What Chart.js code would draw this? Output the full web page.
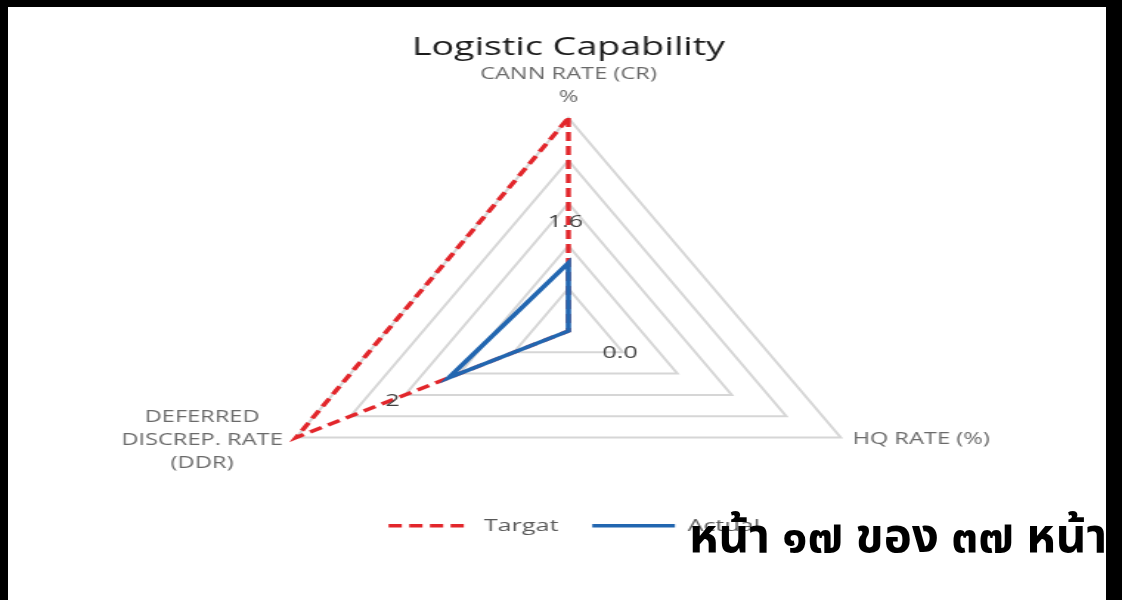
<!DOCTYPE html>
<html><head><meta charset="utf-8">
<script src="https://cdn.jsdelivr.net/npm/chart.js@4.4.1/dist/chart.umd.min.js"></script>
<style>
html,body{margin:0;padding:0;background:#000;width:1122px;height:600px;overflow:hidden;}
#paper{position:absolute;left:8px;top:7px;width:1098px;height:593px;background:#fff;}
#wrap{position:absolute;left:0;top:0;width:760px;height:600px;transform:scaleX(1.4763);transform-origin:0 0;}
#c{display:block;}
#foot{position:absolute;left:689px;top:514px;font-family:"Noto Sans Thai","Loma","Garuda","Norasi","Kinnari","Tlwg Typo","Noto Sans","DejaVu Sans",sans-serif;font-weight:bold;font-size:47.5px;line-height:1;color:#000;white-space:nowrap;}
</style></head>
<body>
<div id="paper"></div>
<div id="wrap"><canvas id="c" width="760" height="600"></canvas></div>
<div id="foot">หน้า ๑๗ ของ ๓๗ หน้า</div>
<script>
// ---- data ----
const chartTitle = 'Logistic Capability';
const categories = [['CANN RATE (CR)', '%'], ['HQ RATE (%)'], ['DEFERRED', 'DISCREP. RATE', '(DDR)']];
const seriesNames = ['Targat', 'Actual'];
const targetValues = [5, 0, 5];
const actualValues = [1.6, 0, 2.2];
const actualLabels = ['1.6', '0.0', '2'];
const scaleMin = 0;
const scaleMax = 5;
const scaleStep = 1;

const FONT = '"Open Sans", "Liberation Sans", sans-serif';

// axis (category) labels drawn around the radar vertices
const axisLabelPlugin = {
  id: 'axisLabels',
  afterDraw(chart) {
    const r = chart.scales.r, ctx = chart.ctx;
    ctx.save();
    ctx.font = '16px ' + FONT;
    ctx.fillStyle = '#6a6a6a';
    ctx.textBaseline = 'middle';
    ctx.textAlign = 'center';
    const lh = 23;
    categories.forEach((lines, i) => {
      const p = r.getPointPosition(i, r.drawingArea);
      const maxW = Math.max(...lines.map(t => ctx.measureText(t).width));
      let cx, cy0;
      if (i === 0) { cx = p.x; cy0 = p.y - 21 - (lines.length - 1) * lh; }
      else if (i === 1) { cx = p.x + 8 + maxW / 2; cy0 = p.y + 2 - (lines.length - 1) * lh / 2; }
      else { cx = p.x - 9 - maxW / 2; cy0 = p.y + 3 - (lines.length - 1) * lh / 2; }
      lines.forEach((t, k) => ctx.fillText(t, cx, cy0 + k * lh));
    });
    ctx.restore();
  }
};

// value labels of the Actual series
const valueLabelPlugin = {
  id: 'valueLabels',
  afterDatasetsDraw(chart) {
    const meta = chart.getDatasetMeta(1), ctx = chart.ctx;
    const offs = [[-2, -41], [35, 22], [-38, 23]];
    ctx.save();
    ctx.font = '17px ' + FONT;
    ctx.fillStyle = '#404040';
    ctx.textAlign = 'center';
    ctx.textBaseline = 'middle';
    meta.data.forEach((pt, i) => {
      ctx.fillText(actualLabels[i], pt.x + offs[i][0], pt.y + offs[i][1]);
    });
    ctx.restore();
  }
};

// legend sits inside the plot region, as in the original
const legendPlacePlugin = {
  id: 'legendPlace',
  afterLayout(chart) {
    const lg = chart.legend;
    if (!lg) return;
    const top = 494.2;
    lg.top = top;
    lg.bottom = top + lg.height;
    lg.left += 4;
    lg.right += 4;
  }
};

new Chart(document.getElementById('c'), {
  type: 'radar',
  data: {
    labels: categories,
    datasets: [
      {
        label: seriesNames[0],
        data: targetValues,
        borderColor: '#e2262b',
        backgroundColor: 'rgba(0,0,0,0)',
        borderWidth: 3.4,
        borderDash: [9, 5],
        fill: false,
        pointRadius: 0,
        order: 1
      },
      {
        label: seriesNames[1],
        data: actualValues,
        borderColor: '#2266b0',
        backgroundColor: 'rgba(0,0,0,0)',
        borderWidth: 3.6,
        fill: false,
        pointRadius: 0,
        order: 0
      }
    ]
  },
  options: {
    responsive: false,
    animation: false,
    devicePixelRatio: 1,
    layout: { padding: { left: 10, right: 0, top: 0, bottom: 6 } },
    elements: { line: { tension: 0, borderJoinStyle: 'miter' } },
    scales: {
      r: {
        min: scaleMin,
        max: scaleMax,
        ticks: { stepSize: scaleStep, display: false },
        grid: { color: '#d6d6d6', lineWidth: 2 },
        angleLines: { display: false },
        pointLabels: { display: false }
      }
    },
    plugins: {
      title: {
        display: true,
        text: chartTitle,
        color: '#1c1c1c',
        font: { family: FONT, size: 25.5, weight: 'normal' },
        padding: { top: 32.2, bottom: 55.2 }
      },
      legend: {
        display: true,
        position: 'bottom',
        labels: {
          font: { family: FONT, size: 17 },
          color: '#595959',
          padding: 23,
          usePointStyle: true,
          pointStyleWidth: 56,
          sort: (a, b) => a.datasetIndex - b.datasetIndex,
          generateLabels(chart) {
            const items = Chart.defaults.plugins.legend.labels.generateLabels(chart);
            items.forEach(it => {
              const ds = chart.data.datasets[it.datasetIndex];
              it.pointStyle = 'line';
              it.lineDash = ds.borderDash || [];
              it.lineWidth = ds.borderWidth;
              it.strokeStyle = ds.borderColor;
              it.fillStyle = ds.borderColor;
            });
            return items;
          }
        }
      },
      tooltip: { enabled: false }
    }
  },
  plugins: [axisLabelPlugin, valueLabelPlugin, legendPlacePlugin]
});
</script>
</body></html>
